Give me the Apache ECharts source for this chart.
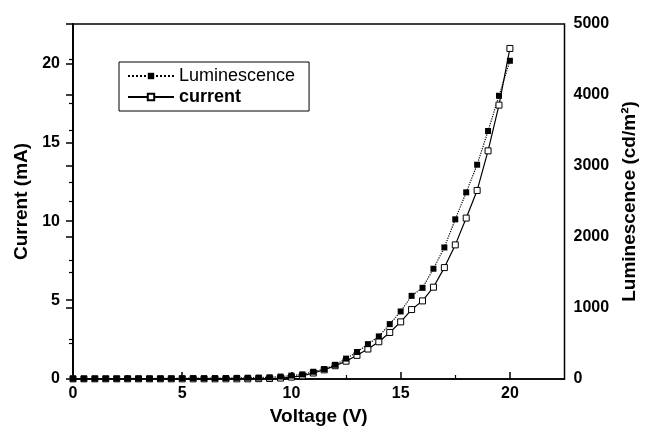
<!DOCTYPE html>
<html>
<head>
<meta charset="utf-8">
<script src="https://cdn.jsdelivr.net/npm/echarts@6.0.0/dist/echarts.min.js"></script>
<style>
  html, body { margin: 0; padding: 0; background: #fff; }
  #main { width: 647px; height: 431px; }
</style>
</head>
<body>
<div id="main"></div>
<script>
// voltage steps (V)
var voltage = [0, 0.5, 1, 1.5, 2, 2.5, 3, 3.5, 4, 4.5, 5, 5.5, 6, 6.5, 7, 7.5, 8, 8.5, 9, 9.5,
  10, 10.5, 11, 11.5, 12, 12.5, 13, 13.5, 14, 14.5, 15, 15.5, 16, 16.5, 17, 17.5, 18, 18.5, 19, 19.5, 20];

// luminescence (cd/m2), right axis
var luminescence = [5, 5, 6, 6, 6, 8, 7, 7, 8, 8, 10, 12, 10, 12, 14, 16, 18, 20, 24, 34,
  48, 65, 102, 140, 200, 287, 380, 491, 600, 773, 951, 1171, 1284, 1553, 1853, 2249, 2629, 3018, 3493, 3989, 4482];

// current (mA), left axis
var current = [0.01, 0.01, 0.01, 0.01, 0.01, 0.01, 0.01, 0.01, 0.01, 0.01, 0.01, 0.01, 0.01, 0.01, 0.01, 0.01, 0.01, 0.02, 0.03, 0.06,
  0.12, 0.2, 0.38, 0.58, 0.84, 1.13, 1.5, 1.9, 2.36, 2.95, 3.62, 4.4, 4.95, 5.82, 7.06, 8.5, 10.2, 11.95, 14.46, 17.36, 20.95];

var xMajor = [0, 5, 10, 15, 20];
var xMinor = [2.5, 7.5, 12.5, 17.5];
var yLeftMajor = [0, 5, 10, 15, 20];
var yLeftMinor = [2.5, 7.5, 12.5, 17.5];

var lumData = [], curData = [];
for (var i = 0; i < voltage.length; i++) {
  lumData.push([voltage[i], luminescence[i]]);
  curData.push([voltage[i], current[i]]);
}

var font = 'Liberation Sans, Arial, sans-serif';
var chart = echarts.init(document.getElementById('main'));

var option = {
  animation: false,
  backgroundColor: '#fff',
  grid: {
    left: 73, right: 82, top: 24, bottom: 50,
    show: true, borderColor: '#000', borderWidth: 1.5
  },
  legend: {
    orient: 'vertical',
    left: 119,
    top: 62,
    itemWidth: 46,
    itemHeight: 8,
    itemGap: 3,
    padding: [5, 14, 5, 8],
    borderColor: '#000',
    borderWidth: 1,
    textStyle: { fontSize: 18, color: '#000', fontFamily: font },
    data: [
      { name: 'Luminescence', textStyle: { fontWeight: 'normal' } },
      { name: 'current', textStyle: { fontWeight: 'bold' } }
    ]
  },
  xAxis: [
    {
      type: 'value',
      min: 0,
      max: 22.5,
      name: 'Voltage (V)',
      nameLocation: 'middle',
      nameGap: 28,
      nameTextStyle: { fontSize: 19, fontWeight: 'bold', color: '#000', fontFamily: font },
      axisLine: { lineStyle: { color: '#000', width: 1.5 } },
      axisTick: { inside: true, length: 7, customValues: xMajor, lineStyle: { color: '#000', width: 1.5 } },
      axisLabel: { customValues: xMajor, margin: 7, fontSize: 16, fontWeight: 'bold', color: '#000', fontFamily: font },
      splitLine: { show: false }
    },
    {
      type: 'value',
      min: 0,
      max: 22.5,
      position: 'bottom',
      axisLine: { show: false },
      axisTick: { inside: true, length: 4, customValues: xMinor, lineStyle: { color: '#000', width: 1.2 } },
      axisLabel: { show: false },
      splitLine: { show: false }
    }
  ],
  yAxis: [
    {
      type: 'value',
      min: 0,
      max: 22.5,
      position: 'left',
      name: 'Current (mA)',
      nameLocation: 'middle',
      nameRotate: 90,
      nameGap: 41,
      nameTextStyle: { fontSize: 19, fontWeight: 'bold', color: '#000', fontFamily: font },
      axisLine: { show: true, lineStyle: { color: '#000', width: 1.5 } },
      axisTick: { show: true, inside: false, length: 7, customValues: yLeftMajor, lineStyle: { color: '#000', width: 1.5 } },
      axisLabel: { customValues: yLeftMajor, margin: 13, fontSize: 16, fontWeight: 'bold', color: '#000', fontFamily: font },
      splitLine: { show: false }
    },
    {
      type: 'value',
      min: 0,
      max: 5000,
      interval: 1000,
      position: 'right',
      name: 'Luminescence (cd/m²)',
      nameLocation: 'middle',
      nameRotate: 90,
      nameGap: 53,
      nameTextStyle: { fontSize: 19, fontWeight: 'bold', color: '#000', fontFamily: font },
      axisLine: { show: true, lineStyle: { color: '#000', width: 1.5 } },
      axisTick: { show: true, inside: true, length: 7, lineStyle: { color: '#000', width: 1.5 } },
      minorTick: { show: true, splitNumber: 2, length: 4, lineStyle: { color: '#000', width: 1.2 } },
      axisLabel: {
        margin: 9, fontSize: 16, fontWeight: 'bold', color: '#000', fontFamily: font,
        formatter: function (v) { return String(v); }
      },
      splitLine: { show: false }
    },
    {
      type: 'value',
      min: 0,
      max: 22.5,
      position: 'left',
      axisLine: { show: false },
      axisTick: { show: true, inside: false, length: 4, customValues: yLeftMinor, lineStyle: { color: '#000', width: 1.2 } },
      axisLabel: { show: false },
      splitLine: { show: false }
    }
  ],
  series: [
    {
      name: 'current',
      type: 'line',
      xAxisIndex: 0,
      yAxisIndex: 0,
      data: curData,
      symbol: 'rect',
      symbolSize: 6,
      lineStyle: { color: '#000', width: 1.2, type: 'solid' },
      itemStyle: { color: '#fff', borderColor: '#000', borderWidth: 1 }
    },
    {
      name: 'Luminescence',
      type: 'line',
      xAxisIndex: 0,
      yAxisIndex: 1,
      data: lumData,
      symbol: 'rect',
      symbolSize: 6,
      lineStyle: { color: '#000', width: 1.2, type: 'dotted' },
      itemStyle: { color: '#000', borderColor: '#000', borderWidth: 0 }
    }
  ]
};

chart.setOption(option);
</script>
</body>
</html>
